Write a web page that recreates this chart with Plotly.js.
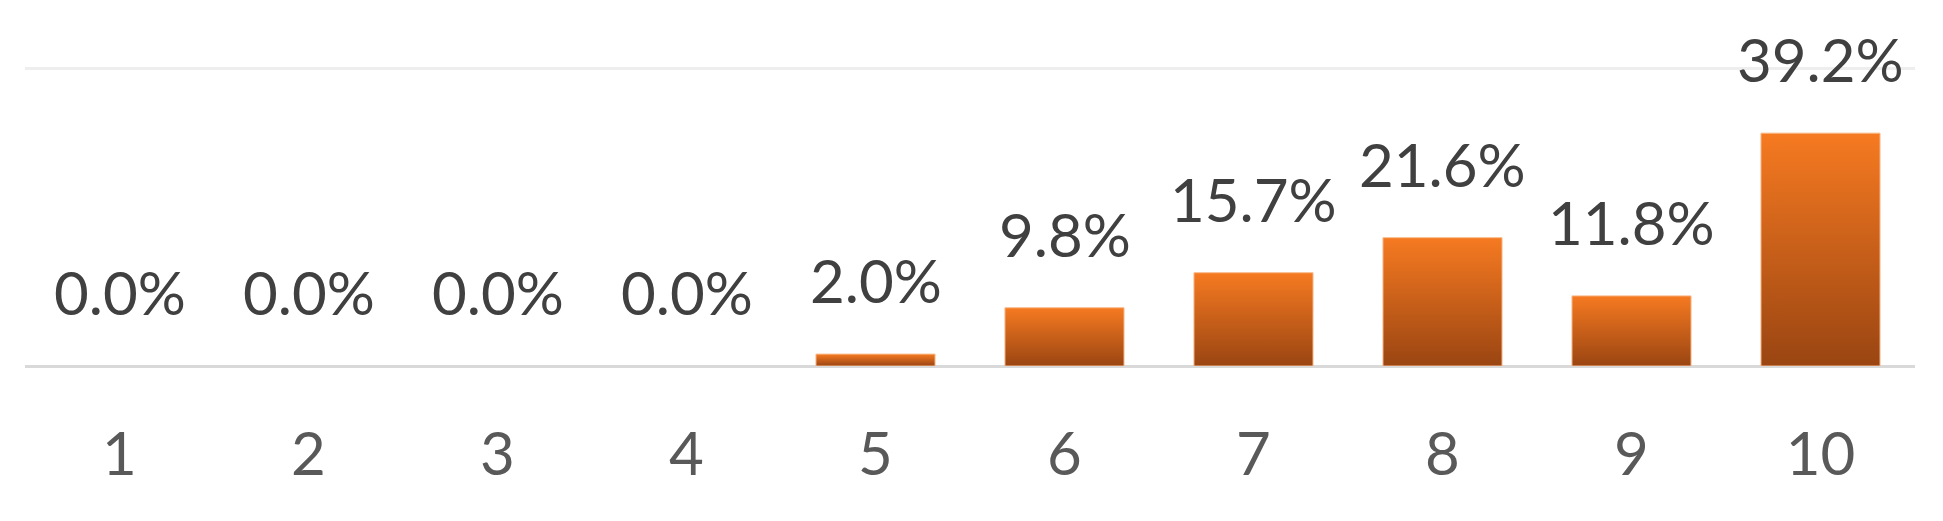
<!DOCTYPE html>
<html>
<head>
<meta charset="utf-8">
<script src="https://cdn.plot.ly/plotly-3.0.1.min.js"></script>
<style>
  html, body { margin: 0; padding: 0; background: #ffffff; }
  #chart { width: 1943px; height: 521px; }
</style>
</head>
<body>
<div id="chart"></div>
<script>
// score categories and the share of answers for each one (in %)
const categories = ['1', '2', '3', '4', '5', '6', '7', '8', '9', '10'];
const shares = [0.0, 0.0, 0.0, 0.0, 2.0, 9.8, 15.7, 21.6, 11.8, 39.2];
const shareLabels = shares.map(v => v.toFixed(1) + '%');

const labelFont = { family: 'Lato, "Open Sans", sans-serif', size: 60, color: '#404040' };

const bars = {
  type: 'bar',
  x: categories,
  y: shares,
  marker: {
    color: '#e8701d',
    // no outline on empty bars, otherwise a faint stripe shows on the baseline
    line: { color: '#f8b98a', width: shares.map(v => v > 0 ? 1 : 0) }
  },
  hoverinfo: 'skip',
  showlegend: false
};

// value labels sit well above each bar, like the original
// (x is the category index: a string like '1' would be read as an index too)
const valueLabels = categories.map((cat, i) => ({
  x: i,
  y: shares[i],
  xref: 'x',
  yref: 'y',
  text: shareLabels[i],
  showarrow: false,
  yanchor: 'bottom',
  yshift: 36,
  font: labelFont
}));

const layout = {
  width: 1943,
  height: 521,
  margin: { l: 25, r: 28, t: 66, b: 155, pad: 0 },
  paper_bgcolor: '#ffffff',
  plot_bgcolor: '#ffffff',
  bargap: 0.37,
  xaxis: {
    type: 'category',
    range: [-0.5, categories.length - 0.5],
    tickfont: { family: 'Lato, "Open Sans", sans-serif', size: 60, color: '#595959' },
    ticks: 'outside',
    ticklen: 0,
    ticklabelstandoff: 36,
    showline: false,
    showgrid: false,
    fixedrange: true
  },
  yaxis: {
    // a little headroom so the 50% gridline is not clipped at the plot edge
    range: [0, 50.5],
    dtick: 50,
    showticklabels: false,
    showgrid: true,
    gridcolor: '#eeeeee',
    gridwidth: 3,
    zeroline: true,
    zerolinecolor: '#d9d9d9',
    zerolinewidth: 3,
    fixedrange: true
  },
  annotations: valueLabels
};

function paintGradient(div) {
  // plotly has no gradient fill for bars, so add one to the svg defs
  const svgNS = 'http://www.w3.org/2000/svg';
  const svg = div.querySelector('svg.main-svg');
  let defs = svg.querySelector('defs');
  if (!defs) {
    defs = document.createElementNS(svgNS, 'defs');
    svg.insertBefore(defs, svg.firstChild);
  }
  const grad = document.createElementNS(svgNS, 'linearGradient');
  grad.setAttribute('id', 'barGradient');
  grad.setAttribute('x1', '0');
  grad.setAttribute('y1', '0');
  grad.setAttribute('x2', '0');
  grad.setAttribute('y2', '1');
  [['0%', '#f67a21'], ['100%', '#9a4512']].forEach(([offset, color]) => {
    const stop = document.createElementNS(svgNS, 'stop');
    stop.setAttribute('offset', offset);
    stop.setAttribute('stop-color', color);
    grad.appendChild(stop);
  });
  defs.appendChild(grad);
  div.querySelectorAll('.trace.bars .point path').forEach(p => {
    p.style.fill = 'url(#barGradient)';
  });
}

const chartDiv = document.getElementById('chart');
Plotly.newPlot(chartDiv, [bars], layout, { displayModeBar: false, staticPlot: true })
  .then(() => paintGradient(chartDiv));
</script>
</body>
</html>
